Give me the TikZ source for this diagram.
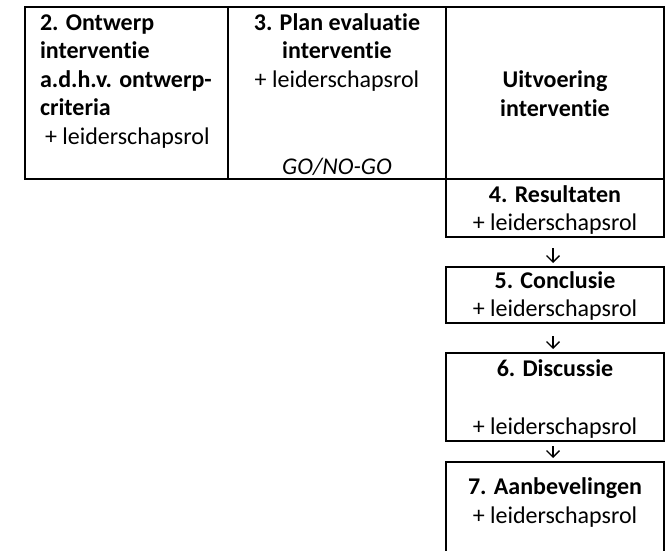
\documentclass[tikz,border=0pt]{standalone}
\usepackage{fontspec}
\setmainfont{Carlito}[Ligatures=NoCommon]
\usetikzlibrary{arrows.meta}
\begin{document}
\begin{tikzpicture}[x=1pt,y=-1pt,
  cellbox/.style 2 args={draw=black, line width=2.4pt, inner sep=0pt, outer sep=0pt,
     anchor=north west, minimum width=#1pt, minimum height=#2pt},
  txt/.style={inner sep=0pt, outer sep=0pt, font=\fontsize{24}{28.5}\selectfont},
  arr/.style={draw=black, line width=1.35pt, -{Straight Barb[length=6.5pt,width=13pt]}, shorten >=4pt}
]
\useasboundingbox (0,0) rectangle (669,551);

% top table
\node[cellbox={203}{172}] (c2) at (25,7) {};
\node[cellbox={218}{172}] (c3) at (228,7) {};
\node[cellbox={218}{172}] (c4) at (446,7) {};

% right column boxes
\node[cellbox={218}{58}] (r4) at (446,179) {};
\node[cellbox={218}{56}] (r5) at (446,267) {};
\node[cellbox={218}{88}] (r6) at (446,353) {};
\node[cellbox={218}{95}] (r7) at (446,462) {};

% texts
\node[txt, anchor=north west, align=left] (t2) at (40,10.5)
  {\strut\textbf{2. Ontwerp}\\ \textbf{interventie}\\ \textbf{a.d.h.v. ontwerp-}\\ \textbf{criteria}\\ \hspace*{5pt}+ leiderschapsrol};
\node[txt, anchor=north, align=center] (t3) at (337,10.5)
  {\strut\textbf{3. Plan evaluatie}\\ \textbf{interventie}\\ + leiderschapsrol};
\node[txt, anchor=base] (go) at (337,174.5) {\itshape GO/NO-GO};
\node[txt, anchor=north, align=center] (t4) at (555,68)
  {\strut\textbf{Uitvoering}\\ \textbf{interventie}};

\node[txt, anchor=north, align=center] (l4) at (555,182.5)
  {\strut\textbf{4. Resultaten}\\ + leiderschapsrol};
\node[txt, anchor=north, align=center] (l5) at (555,268.5)
  {\strut\textbf{5. Conclusie}\\ + leiderschapsrol};
\node[txt, anchor=north, align=center] (l6) at (555,357)
  {\strut\textbf{6. Discussie}\\ \strut\\[1pt] + leiderschapsrol};
\node[txt, anchor=north, align=center] (l7) at (555,475)
  {\strut\textbf{7. Aanbevelingen}\\ + leiderschapsrol};

% arrows
\draw[arr, shorten <=11pt] ([xshift=-2pt]r4.south) -- ([xshift=-2pt]r5.north);
\draw[arr, shorten <=13pt] ([xshift=-2pt]r5.south) -- ([xshift=-2pt]r6.north);
\draw[arr, shorten <=5pt] ([xshift=-2pt]r6.south) -- ([xshift=-2pt]r7.north);
\end{tikzpicture}
\end{document}
